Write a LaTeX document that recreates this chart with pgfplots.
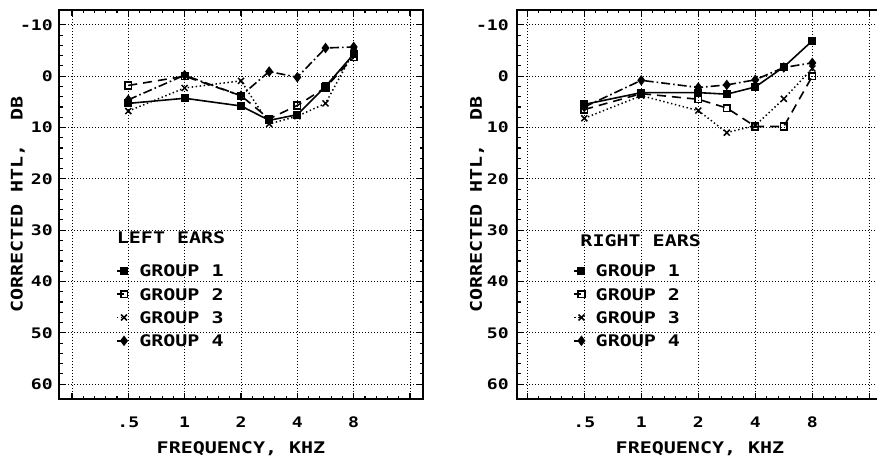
\documentclass[border=0pt]{standalone}
\usepackage{fontspec}
\setmainfont{DejaVu Sans Mono}[FakeStretch=1.25]
\usepackage{pgfplots}
\pgfplotsset{compat=1.18}
\newcommand\pf{\bfseries\fontsize{16bp}{18bp}\selectfont}
\newcommand\tf{\bfseries\fontsize{14.5bp}{16bp}\selectfont}
\pgfplotsset{
  audio/.style={
    scale only axis, height=389bp,
    ymin=-12.9, ymax=62.9, y dir=reverse,
    ytick={-10,0,...,60}, yticklabels={-10,0,10,20,30,40,50,60},
    minor y tick num=4,
    xtick={-1,0,...,5}, xticklabels={,.5,1,2,4,8,},
    minor x tick num=4,
    grid=major,
    major grid style={black, line width=0.8bp, dash pattern=on 0.8bp off 2.2bp},
    axis line style={line width=1.8bp},
    every tick/.style={black, line width=1.1bp},
    major tick length=6bp, minor tick length=3.5bp,
    tick align=inside,
    tick label style={font=\tf},
    label style={font=\pf},
    xticklabel style={anchor=center, inner sep=0pt, yshift=-23bp},
    xlabel style={at={(axis description cs:0.5,-0.128)}, anchor=center},
    xlabel={FREQUENCY, KHZ},
    ylabel={CORRECTED HTL,~~DB},
    legend cell align=left,
    legend image code/.code={\draw[mark repeat=2,mark phase=2,##1] plot coordinates {(0bp,0bp)(7bp,0bp)};},
    legend style={draw=none, fill=none, inner sep=0pt, font=\pf, row sep=11.6bp,
      nodes={inner sep=0pt, text height=11.7bp, text depth=0bp}},
  },
  g1/.style={black, line width=1.6bp, solid, mark=square*, mark size=3.2bp, mark options={solid}},
  g2/.style={black, line width=1.6bp, dash pattern=on 9bp off 6bp, mark=square, mark size=3.3bp, mark options={solid, fill=white, line width=1.6bp}},
  g3/.style={black, line width=1.5bp, dash pattern=on 1.4bp off 2.6bp, mark=x, mark size=4.2bp, mark options={solid, line width=1.5bp}},
  g4/.style={black, line width=1.6bp, dash pattern=on 9bp off 3bp on 1.6bp off 3bp, mark=diamond*, mark size=4bp, mark options={solid}},
}
\begin{document}
\begin{tikzpicture}
% LEFT EARS
\begin{axis}[audio, at={(59bp,59bp)}, anchor=south west, width=364bp,
  xmin=-1.23, xmax=5.23,
  yticklabel style={anchor=east, inner sep=0pt, xshift=-6bp},
  ylabel style={at={(axis description cs:-0.113,0.5)}, anchor=center},
  legend style={at={(axis cs:-0.218,36.76)}, anchor=north west, column sep=12bp}]
\addplot[g1] coordinates {(0,5.3)(1,4.3)(2,5.8)(2.5,8.6)(3,7.5)(3.5,2.0)(4,-4.3)};
\addlegendentry{GROUP 1}
\addplot[g2] coordinates {(0,1.8)(1,0.0)(2,3.8)(2.5,8.3)(3,5.7)(3.5,2.2)(4,-3.7)};
\addlegendentry{GROUP 2}
\addplot[g3] coordinates {(0,6.8)(1,2.3)(2,0.9)(2.5,9.3)(3,7.8)(3.5,5.3)(4,-4.8)};
\addlegendentry{GROUP 3}
\addplot[g4] coordinates {(0,4.6)(1,-0.2)(2,3.8)(2.5,-0.9)(3,0.2)(3.5,-5.5)(4,-5.7)};
\addlegendentry{GROUP 4}
\node[anchor=west, inner sep=0pt, font=\pf] at (axis cs:-0.206,31.56) {LEFT EARS};
\end{axis}
% RIGHT EARS
\begin{axis}[audio, at={(517bp,59bp)}, anchor=south west, width=366bp,
  xmin=-1.18, xmax=5.24,
  yticklabel style={anchor=east, inner sep=0pt, xshift=-8bp},
  ylabel style={at={(axis description cs:-0.109,0.5)}, anchor=center},
  legend style={at={(axis cs:-0.19,36.76)}, anchor=north west, column sep=11bp}]
\addplot[g1] coordinates {(0,5.5)(1,3.2)(2,3.2)(2.5,3.5)(3,2.1)(3.5,-1.8)(4,-6.9)};
\addlegendentry{GROUP 1}
\addplot[g2] coordinates {(0,6.5)(1,3.4)(2,4.5)(2.5,6.2)(3,9.8)(3.5,9.8)(4,0.0)};
\addlegendentry{GROUP 2}
\addplot[g3] coordinates {(0,8.2)(1,3.8)(2,6.7)(2.5,11.0)(3,9.6)(3.5,4.4)(4,-1.5)};
\addlegendentry{GROUP 3}
\addplot[g4] coordinates {(0,6.0)(1,0.8)(2,2.2)(2.5,1.7)(3,0.7)(3.5,-1.7)(4,-2.6)};
\addlegendentry{GROUP 4}
\node[anchor=west, inner sep=0pt, font=\pf] at (axis cs:-0.07,32.0) {RIGHT EARS};
\end{axis}
\pgfresetboundingbox
\useasboundingbox (0bp,0bp) rectangle (877bp,458bp);
\end{tikzpicture}
\end{document}
